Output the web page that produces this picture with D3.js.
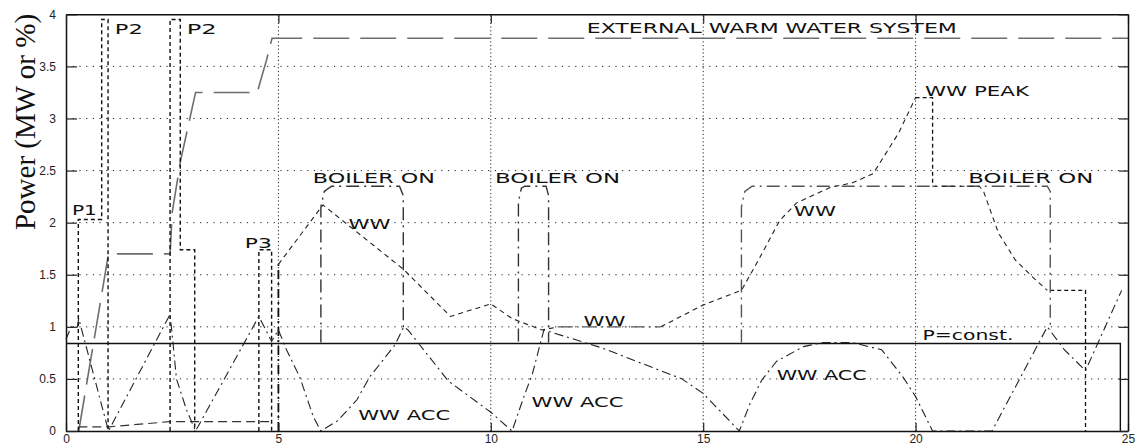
<!DOCTYPE html>
<html>
<head>
<meta charset="utf-8">
<script src="https://cdn.jsdelivr.net/npm/d3@7"></script>
<style>
  body { margin: 0; background: #fff; }
  svg { display: block; }
  .tick text { font-family: "Liberation Sans", Arial, sans-serif; font-size: 12px; fill: #222; }
  .lbl { font-family: "DejaVu Sans", sans-serif; font-size: 13.5px; fill: #111; }
</style>
</head>
<body>
<svg id="chart" width="1137" height="448"></svg>
<script>
// ---- data ----
const xTicks = [0, 5, 10, 15, 20, 25];
const yTicks = [0, 0.5, 1, 1.5, 2, 2.5, 3, 3.5, 4];
const yTickLabels = ["0", "0.5", "1", "1.5", "2", "2.5", "3", "3.5", "4"];

const extWarmWater = [[0.3, 0], [1.0, 1.7], [2.45, 1.7], [2.5, 2.1], [2.7, 2.6], [3.05, 3.25],
  [4.5, 3.25], [4.72, 3.56], [4.85, 3.77], [25, 3.77]];

const pConst = [[0, 0.84], [24.82, 0.84], [24.82, 0]];

const pulseP1P2 = [[0.29, 0], [0.29, 2.03], [0.84, 2.03], [0.84, 3.95], [0.99, 3.95], [0.99, 0]];
const pulseP2 = [[2.45, 0], [2.45, 3.95], [2.69, 3.95], [2.69, 1.74], [3.03, 1.74], [3.03, 0]];
const pulseP3 = [[4.54, 0], [4.54, 1.74], [4.84, 1.74], [4.84, 0]];
const wwPeak = [[20.0, 3.2], [20.4, 3.2], [20.4, 2.35]];
const wwTail = [[23.17, 1.35], [24.0, 1.35], [24.0, 0]];

const baseLoad = [[0.29, 0.04], [1.0, 0.04], [2.45, 0.09], [4.84, 0.09]];

const boilerOn1 = [[6.0, 0.85], [6.0, 2.15], [6.08, 2.3], [6.25, 2.35], [7.85, 2.35], [7.94, 2.26], [7.94, 0.98]];
const boilerOn2 = [[10.65, 0.86], [10.65, 2.2], [10.72, 2.33], [10.8, 2.35], [11.3, 2.35], [11.36, 2.26], [11.36, 0.85]];
const boilerOn3 = [[15.9, 0.85], [15.9, 2.15], [15.98, 2.3], [16.15, 2.35], [23.1, 2.35], [23.17, 2.3], [23.17, 0.97]];
const wwSwitch = [[5.0, 0], [5.0, 1.6]];

const wwDemand = [[5.0, 1.6], [6.05, 2.17], [7.95, 1.55], [9.05, 1.1], [10.0, 1.22], [10.5, 1.08],
  [11.2, 0.97], [11.6, 1.0]];
const wwFlat = [[11.6, 1.0], [14.0, 1.0]];
const wwRise = [[14.0, 1.0], [15.0, 1.21], [15.9, 1.35], [16.3, 1.64], [16.8, 2.02],
  [17.2, 2.19], [18.0, 2.34], [18.5, 2.38], [19.0, 2.47], [19.6, 2.86], [20.0, 3.2]];
const wwDemand2 = [[20.4, 2.35], [21.5, 2.35], [21.6, 2.3], [21.95, 1.9], [22.35, 1.64],
  [22.75, 1.48], [23.1, 1.35]];

const wwAcc = [[0, 0.88], [0.12, 1.0], [0.27, 1.0], [0.3, 1.08], [1.0, 0], [2.45, 1.12],
  [2.52, 0.84], [2.6, 0.5], [2.84, 0.2], [3.05, 0], [4.54, 1.1], [4.84, 0.86], [5.0, 0.97],
  [5.19, 0.78], [5.5, 0.52], [5.66, 0.33], [5.82, 0.14], [6.0, 0], [6.4, 0.1], [6.85, 0.3],
  [7.15, 0.52], [7.5, 0.7], [7.75, 0.83], [7.95, 1.0], [8.05, 0.97], [9.0, 0.48], [10.0, 0.18],
  [10.5, 0], [10.78, 0.33], [10.98, 0.55], [11.25, 0.97], [12.6, 0.8], [14.5, 0.5], [15.0, 0.36],
  [15.85, 0], [16.1, 0.26], [16.38, 0.49], [16.73, 0.67], [17.36, 0.81], [17.83, 0.85],
  [18.5, 0.85], [19.2, 0.78], [19.7, 0.52], [20.0, 0.33], [20.4, 0], [21.8, 0], [23.1, 1.0],
  [23.5, 0.78], [24.0, 0.58], [24.85, 1.35]];

const annotations = [
  { text: "EXTERNAL WARM WATER SYSTEM", x: 12.26, y: 3.82, w: 370 },
  { text: "P1", x: 0.14, y: 2.07, w: 25 },
  { text: "P2", x: 1.15, y: 3.81, w: 28 },
  { text: "P2", x: 2.84, y: 3.81, w: 30 },
  { text: "P3", x: 4.21, y: 1.76, w: 27 },
  { text: "BOILER ON", x: 5.81, y: 2.38, w: 122 },
  { text: "BOILER ON", x: 10.1, y: 2.38, w: 125 },
  { text: "BOILER ON", x: 21.24, y: 2.38, w: 125 },
  { text: "WW", x: 6.65, y: 1.94, w: 42 },
  { text: "WW", x: 12.18, y: 1.01, w: 42 },
  { text: "WW", x: 17.14, y: 2.06, w: 42 },
  { text: "WW PEAK", x: 20.22, y: 3.22, w: 104 },
  { text: "WW ACC", x: 6.88, y: 0.105, w: 92 },
  { text: "WW ACC", x: 10.96, y: 0.233, w: 92 },
  { text: "WW ACC", x: 16.73, y: 0.49, w: 90 },
  { text: "P=const.", x: 20.16, y: 0.873, w: 91 }
];

// ---- drawing ----
const svg = d3.select("#chart");
const x = d3.scaleLinear().domain([0, 25]).range([66, 1128]);
const y = d3.scaleLinear().domain([0, 4]).range([431, 14.3]);

// grid
const grid = svg.append("g").attr("stroke", "#222").attr("stroke-width", 1);
grid.selectAll("line.gy").data(yTicks.slice(1, -1)).join("line")
  .attr("x1", x(0)).attr("x2", x(25)).attr("y1", d => y(d)).attr("y2", d => y(d))
  .attr("stroke-dasharray", "1.2,5.5");
grid.selectAll("line.gx").data(xTicks.slice(1, -1)).join("line")
  .attr("y1", y(0)).attr("y2", y(4)).attr("x1", d => x(d)).attr("x2", d => x(d))
  .attr("stroke-dasharray", "1.2,2.5");

const line = d3.line().x(d => x(d[0])).y(d => y(d[1]));
const series = [
  { data: extWarmWater, stroke: "#6e6e6e", width: 1.6, dash: "36,11" },
  { data: pConst, stroke: "#111", width: 1.4, dash: null },
  { data: baseLoad, stroke: "#333", width: 1.1, dash: "9,5" },
  { data: pulseP1P2, stroke: "#111", width: 1.4, dash: "4,3" },
  { data: pulseP2, stroke: "#111", width: 1.4, dash: "4,3" },
  { data: pulseP3, stroke: "#111", width: 1.4, dash: "4,3" },
  { data: wwPeak, stroke: "#111", width: 1.3, dash: "4,3" },
  { data: wwTail, stroke: "#111", width: 1.3, dash: "4,3" },
  { data: boilerOn1, stroke: "#333", width: 1.4, dash: "13,5,2,5" },
  { data: boilerOn2, stroke: "#333", width: 1.4, dash: "13,5,2,5" },
  { data: boilerOn3, stroke: "#555", width: 1.4, dash: "13,5,2,5" },
  { data: wwSwitch, stroke: "#111", width: 1.8, dash: "9,4,2,4" },
  { data: wwDemand, stroke: "#222", width: 1.1, dash: "5,4" },
  { data: wwFlat, stroke: "#555", width: 1.2, dash: "14,4,2,4" },
  { data: wwRise, stroke: "#222", width: 1.1, dash: "5,4" },
  { data: wwDemand2, stroke: "#222", width: 1.1, dash: "5,4" },
  { data: wwAcc, stroke: "#222", width: 1.1, dash: "9,4,2,4" }
];
svg.append("g").selectAll("path").data(series).join("path")
  .attr("d", d => line(d.data))
  .attr("fill", "none")
  .attr("stroke", d => d.stroke)
  .attr("stroke-width", d => d.width)
  .attr("stroke-dasharray", d => d.dash);

// axes (ticks pointing inward, MATLAB style)
svg.append("g").attr("transform", `translate(0,${y(0)})`)
  .call(d3.axisBottom(x).tickValues(xTicks).tickSizeInner(-8).tickSizeOuter(0).tickPadding(3).tickFormat(d3.format("d")));
svg.append("g").attr("transform", `translate(${x(0)},0)`)
  .call(d3.axisLeft(y).tickValues(yTicks).tickSizeInner(-11).tickSizeOuter(0).tickPadding(10)
    .tickFormat((d, i) => yTickLabels[i]));
svg.append("g").attr("transform", `translate(0,${y(4)})`)
  .call(d3.axisTop(x).tickValues(xTicks).tickSizeInner(-9).tickSizeOuter(0).tickFormat(""));
svg.append("g").attr("transform", `translate(${x(25)},0)`)
  .call(d3.axisRight(y).tickValues(yTicks).tickSizeInner(-9).tickSizeOuter(0).tickFormat(""));
svg.selectAll(".domain").attr("stroke", "#111").attr("stroke-width", 1.5);
svg.selectAll(".tick line").attr("stroke", "#222").attr("stroke-width", 1.2);

// labels inside the plot
svg.append("g").selectAll("text").data(annotations).join("text")
  .attr("class", "lbl")
  .attr("x", d => x(d.x)).attr("y", d => y(d.y))
  .attr("textLength", d => d.w).attr("lengthAdjust", "spacingAndGlyphs")
  .text(d => d.text);

// y axis title
svg.append("text")
  .attr("transform", "translate(35,122) rotate(-90)")
  .attr("text-anchor", "middle")
  .style("font-family", "'Liberation Serif', 'Times New Roman', serif")
  .style("font-size", "29px")
  .attr("fill", "#111")
  .text("Power (MW or %)");
</script>
</body>
</html>
